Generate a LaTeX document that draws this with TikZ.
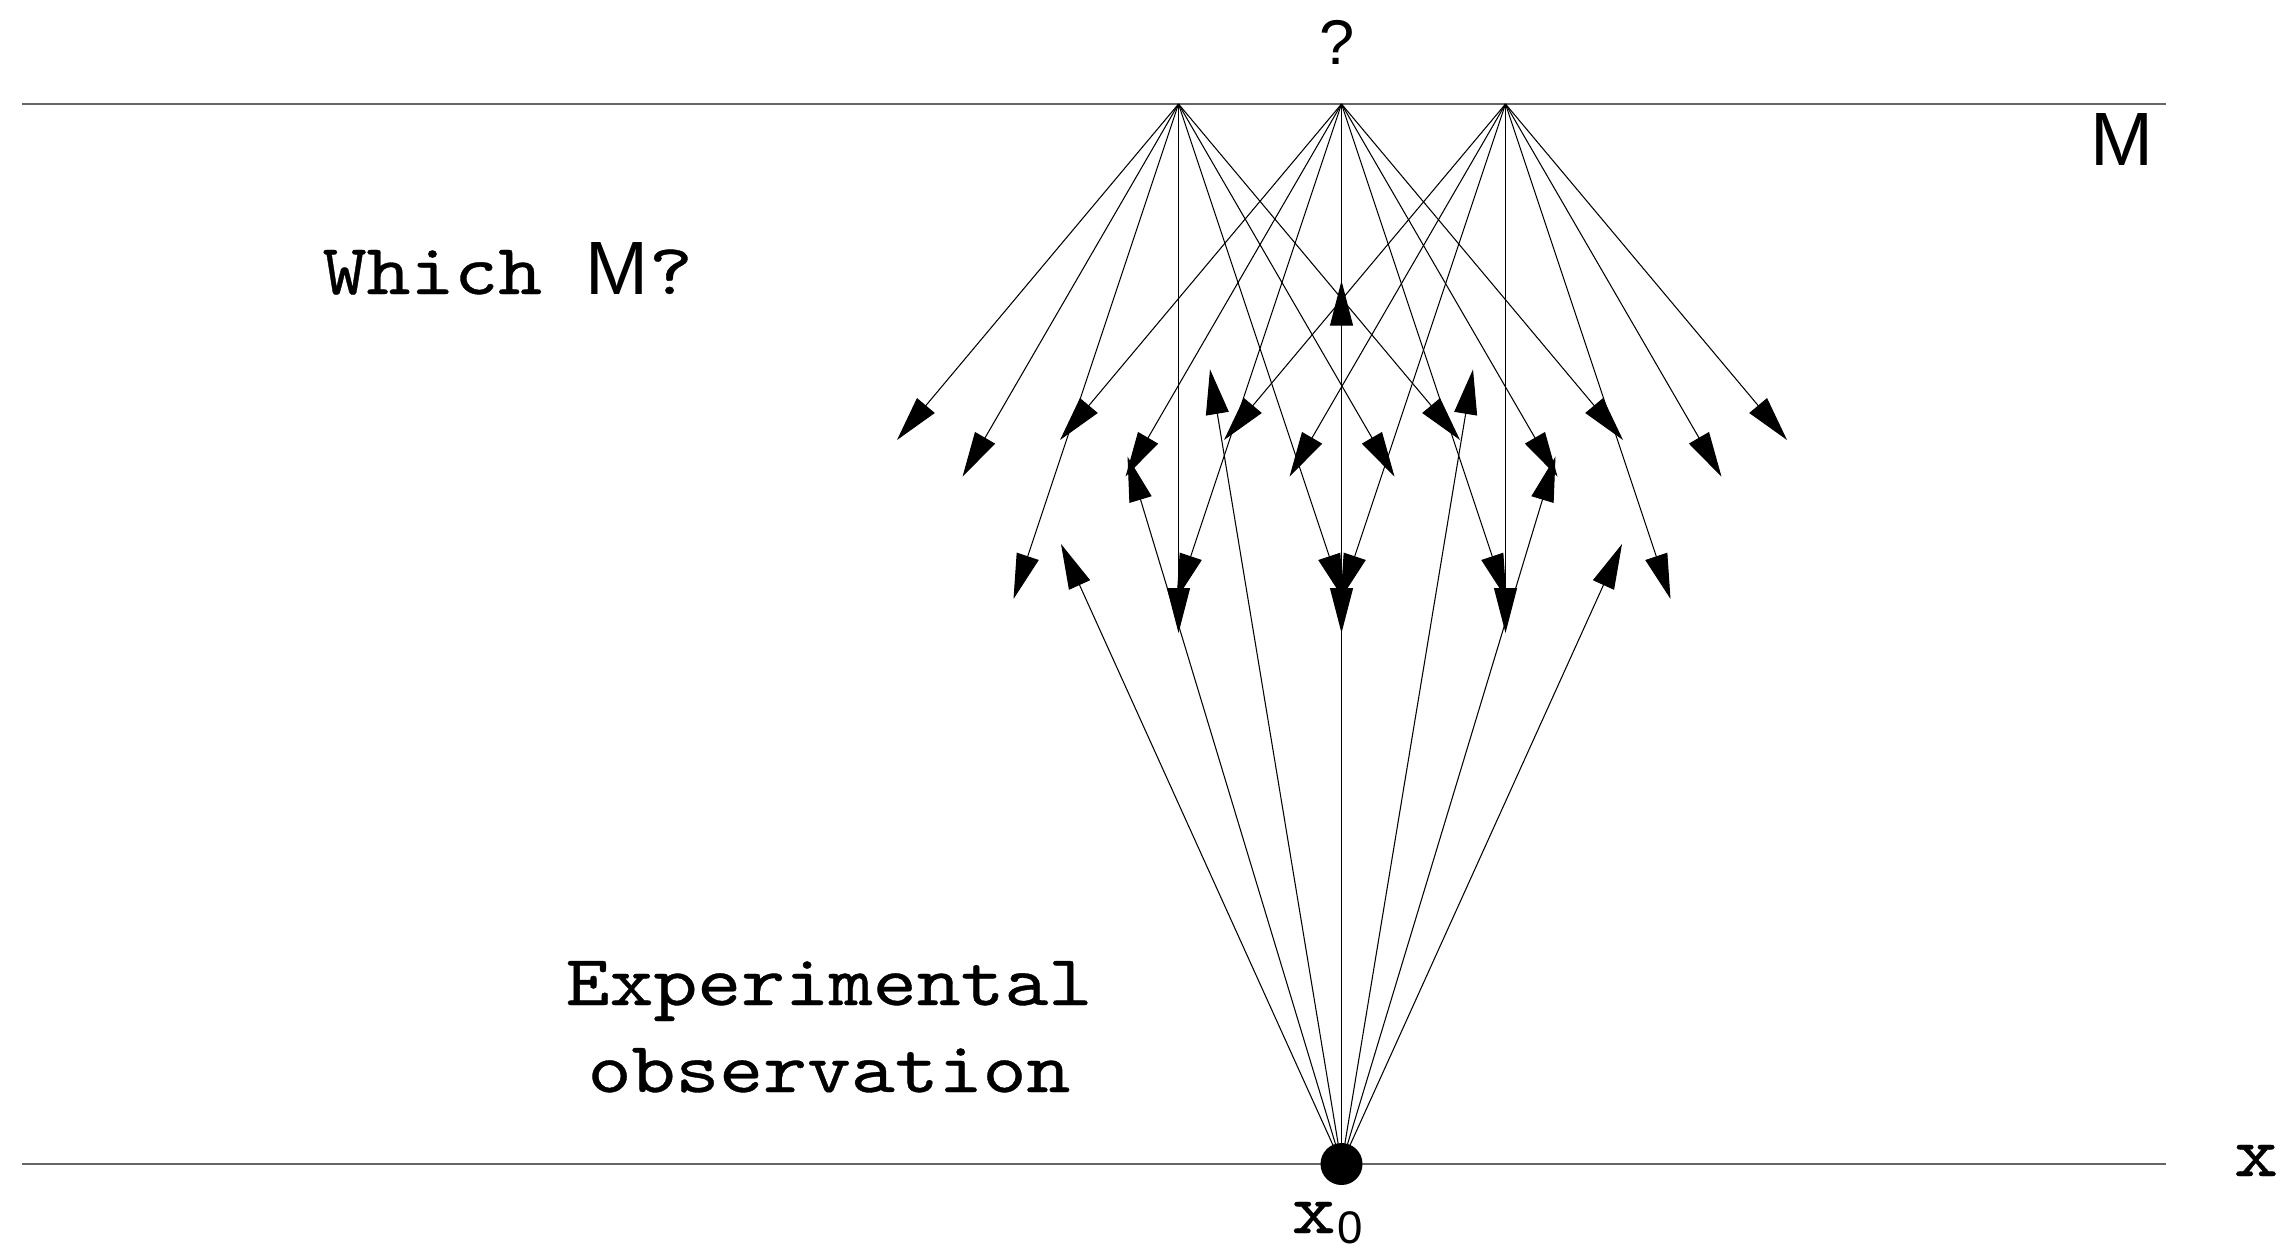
\documentclass[tikz,border=0pt]{standalone}
\usepackage{fontspec}
\newfontfamily\sansM{Liberation Sans}
\newfontfamily\courM{lmmono10-regular}[Extension=.otf,FakeStretch=1.16,FakeBold=0.5]
\usetikzlibrary{arrows.meta}
\begin{document}
\begin{tikzpicture}[x=0.1mm,y=-0.1mm,
  axisline/.style={line width=0.55pt,black!60},
  ray/.style={line width=0.3pt,-{Triangle[length=4.5mm,width=2.3mm]}},
  tt/.style={font=\courM\fontsize{20.5}{24}\selectfont,inner sep=0pt},
  sf/.style={font=\sansM\fontsize{21.5}{24}\selectfont,inner sep=0pt}]
\useasboundingbox (0,0) rectangle (2290,1248);
% axes
\coordinate (Mleft) at (22,104);
\coordinate (Mright) at (2166,104);
\coordinate (Xleft) at (22,1164);
\coordinate (Xright) at (2166,1164);
\draw[axisline] (Mleft) -- (Mright);
\draw[axisline] (Xleft) -- (Xright);
% points on M
\coordinate (A1) at (1178.5,104);
\coordinate (A2) at (1341.5,104);
\coordinate (A3) at (1505.5,104);
\coordinate (x0c) at (1341.5,1164);
% downward fans
\foreach \a in {A1,A2,A3}{
  \foreach \i/\dx/\dy in {l3/-281.5/336,l2/-216/372.7,l1/-165/495,c/0/529,r1/165/495,r2/216/372.7,r3/281.5/336}{
    \path (\a) ++(\dx,\dy) coordinate (\a\i);
    \draw[ray] (\a) -- (\a\i);
  }
}
% upward fan from x0
\foreach \i/\dx/\dy in {l3/-280.5/-620,l2/-214/-707.5,l1/-131.5/-794.7,c/0/-883.3,r1/131.5/-794.7,r2/214/-707.5,r3/280.5/-620}{
  \path (x0c) ++(\dx,\dy) coordinate (u\i);
  \draw[ray] (x0c) -- (u\i);
}
\node[circle,fill,inner sep=0pt,minimum size=4.2mm] (x0) at (x0c) {};
% labels
\node[inner sep=0pt,font=\sansM\fontsize{18}{20}\selectfont,anchor=base] (q) at (1337,64) {?};
\node[sf,anchor=base] (Mlab) at (2122,165) {M};
\node[tt,anchor=base west] (which) at (322,294) {Which {\sansM\fontsize{21.5}{24}\selectfont M}?};
\node[tt,anchor=base] (exp1) at (829,1005) {Experimental};
\node[tt,anchor=base] (exp2) at (829,1092) {observation};
\node[tt,anchor=base] (xlab) at (2256,1176) {x};
\node[tt,anchor=base west] (x0lab) at (1291,1233) {x\kern0.2mm\raisebox{-1mm}{\sansM\fontsize{13}{14}\selectfont 0}};
\end{tikzpicture}
\end{document}
